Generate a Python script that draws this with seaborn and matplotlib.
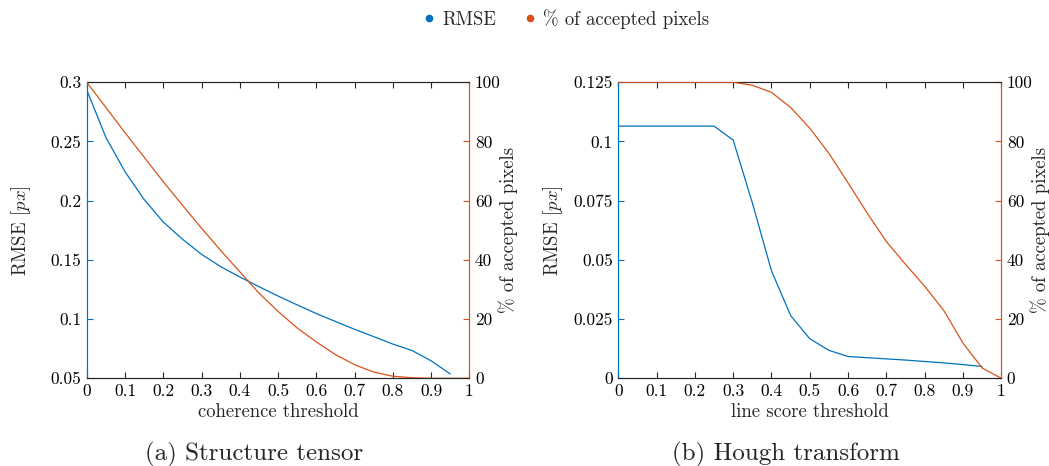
import matplotlib
matplotlib.use("Agg")
import matplotlib.pyplot as plt
import numpy as np
import pandas as pd
import seaborn as sns
from matplotlib.ticker import FixedLocator, FuncFormatter
from matplotlib.lines import Line2D

# ---------------- data ----------------
thr_rmse = [0.00, 0.05, 0.10, 0.15, 0.20, 0.25, 0.30, 0.35, 0.40, 0.45,
            0.50, 0.55, 0.60, 0.65, 0.70, 0.75, 0.80, 0.85, 0.90, 0.95]
thr_pct = thr_rmse + [1.00]

# (a) Structure tensor
st_rmse = [0.2935, 0.2535, 0.2245, 0.2010, 0.1820, 0.1675, 0.1547, 0.1443, 0.1356, 0.1274,
           0.1195, 0.1120, 0.1047, 0.0980, 0.0914, 0.0852, 0.0789, 0.0735, 0.0648, 0.0537]
st_pct = [100.0, 91.5, 83.0, 74.7, 66.4, 58.5, 50.7, 43.2, 36.0, 28.8,
          22.6, 17.0, 12.3, 8.0, 4.6, 2.1, 0.7, 0.2, 0.0, 0.0, 0.0]

# (b) Hough transform
ht_rmse = [0.1065, 0.1065, 0.1065, 0.1065, 0.1065, 0.1065, 0.1006, 0.0741, 0.0454, 0.0265,
           0.0167, 0.0118, 0.0092, 0.0087, 0.0082, 0.0077, 0.0071, 0.0065, 0.0058, 0.0050]
ht_pct = [100.0, 100.0, 100.0, 100.0, 100.0, 100.0, 100.0, 99.0, 96.6, 91.5,
          84.5, 76.0, 66.0, 55.8, 46.2, 38.5, 31.1, 22.9, 11.9, 3.5, 0.0]

x_ticks = [0, 0.1, 0.2, 0.3, 0.4, 0.5, 0.6, 0.7, 0.8, 0.9, 1.0]
st_rmse_ticks = [0.05, 0.1, 0.15, 0.2, 0.25, 0.3]
ht_rmse_ticks = [0, 0.025, 0.05, 0.075, 0.1, 0.125]
pct_ticks = [0, 20, 40, 60, 80, 100]

xlabels = ["coherence threshold", "line score threshold"]
captions = ["(a) Structure tensor", "(b) Hough transform"]
legend_labels = ["RMSE", "% of accepted pixels"]

# ---------------- style ----------------
sns.set_theme(style="white")
plt.rcParams["font.family"] = ["cmr10", "DejaVu Serif"]
plt.rcParams["mathtext.fontset"] = "cm"
plt.rcParams["axes.formatter.use_mathtext"] = True
plt.rcParams["axes.unicode_minus"] = False

BLUE = "#0072BD"
ORANGE = "#D95319"
GRAY = "#262626"
LW = 0.9
FS_TICK = 12.5
FS_LAB = 13.5

fmt = FuncFormatter(lambda v, p: f"{v:g}")

fig = plt.figure(figsize=(10.49, 4.66), dpi=100)

panels = [
    dict(rect=[0.0827, 0.1882, 0.3647, 0.6352], rmse=st_rmse, pct=st_pct,
         ylim=(0.05, 0.3), yticks=st_rmse_ticks, xlabel=xlabels[0], cap=captions[0],
         capx=0.2426, rlab=1.075),
    dict(rect=[0.5894, 0.1882, 0.3651, 0.6352], rmse=ht_rmse, pct=ht_pct,
         ylim=(0, 0.125), yticks=ht_rmse_ticks, xlabel=xlabels[1], cap=captions[1],
         capx=0.749, rlab=1.075),
]

for p in panels:
    ax = fig.add_axes(p["rect"])
    ax2 = ax.twinx()
    df1 = pd.DataFrame({"thr": thr_rmse, "rmse": p["rmse"]})
    df2 = pd.DataFrame({"thr": thr_pct, "pct": p["pct"]})
    sns.lineplot(data=df1, x="thr", y="rmse", ax=ax, color=BLUE, lw=LW, zorder=3)
    sns.lineplot(data=df2, x="thr", y="pct", ax=ax2, color=ORANGE, lw=LW, zorder=3)

    ax.set_xlim(0, 1)
    ax.set_ylim(*p["ylim"])
    ax2.set_ylim(0, 100)
    ax.xaxis.set_major_locator(FixedLocator(x_ticks))
    ax.yaxis.set_major_locator(FixedLocator(p["yticks"]))
    ax2.yaxis.set_major_locator(FixedLocator(pct_ticks))
    ax.xaxis.set_major_formatter(fmt)
    ax.yaxis.set_major_formatter(fmt)
    ax2.yaxis.set_major_formatter(fmt)

    for a in (ax, ax2):
        for s in a.spines.values():
            s.set_linewidth(0.8)
        a.spines["top"].set_color(GRAY)
        a.spines["bottom"].set_color(GRAY)
        a.spines["left"].set_color(BLUE)
        a.spines["right"].set_color(ORANGE)

    ax.tick_params(axis="x", direction="in", top=True, bottom=True, length=4,
                   width=0.8, color=GRAY, labelsize=FS_TICK, labelcolor="black", pad=4)
    ax.tick_params(axis="y", direction="in", left=True, right=False, length=4,
                   width=0.8, color=BLUE, labelsize=FS_TICK, labelcolor="black", pad=4)
    ax2.tick_params(axis="y", direction="in", right=True, left=False, length=4,
                    width=0.8, color=ORANGE, labelsize=FS_TICK, labelcolor="black", pad=4)

    ax.set_xlabel(p["xlabel"], fontsize=FS_LAB, labelpad=3)
    ax.set_ylabel(r"RMSE [$px$]", fontsize=FS_LAB)
    ax.yaxis.set_label_coords(-0.140, 0.5)
    ax2.set_ylabel(legend_labels[1], fontsize=FS_LAB)
    ax2.yaxis.set_label_coords(p["rlab"], 0.5)
    ax.patch.set_visible(False)

    fig.text(p["capx"], 0.0129, p["cap"], ha="center", va="baseline", fontsize=18)

handles = [
    Line2D([], [], ls="none", marker="o", ms=4.5, color=BLUE),
    Line2D([], [], ls="none", marker="o", ms=4.5, color=ORANGE),
]
fig.legend(handles, legend_labels, loc="center", bbox_to_anchor=(0.539, 0.959), ncol=2,
           frameon=False, fontsize=FS_LAB, handletextpad=0.3, columnspacing=1.4,
           handlelength=0.8, borderpad=0.2)

fig.savefig("out.png", dpi=100)
